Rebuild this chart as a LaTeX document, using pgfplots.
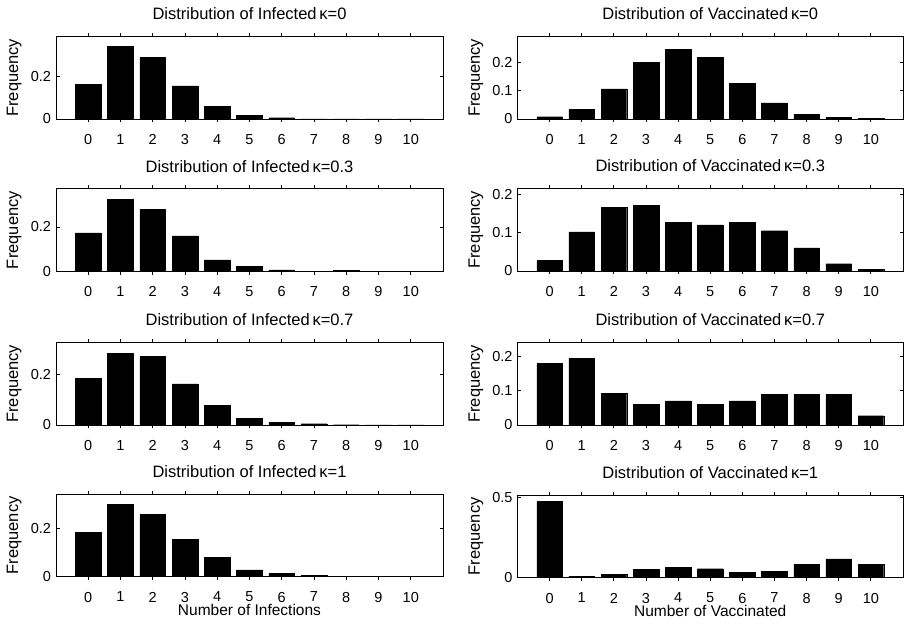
\documentclass[border=0pt]{standalone}
\usepackage{fontspec}
\setmainfont{Liberation Sans}
\usepackage{pgfplots}
\pgfplotsset{compat=1.18}
\pgfplotsset{
 panel/.style={
   scale only axis, width=387pt, height=82.5pt, anchor=south west,
   xmin=-1, xmax=11, ymin=0, xtick={0,...,10},
   tick align=inside, major tick length=3.5pt,
   axis line style={line width=0.9pt},
   every tick/.style={black, line width=0.8pt},
   ybar, bar width=0.8,
   /pgf/number format/assume math mode=true,
   ticklabel style={font=\fontsize{14.5}{14.5}\selectfont},
   xticklabel style={inner sep=0pt, anchor=north, yshift=-11.5pt},
   yticklabel style={xshift=-1.5pt},
   title style={at={(axis description cs:0.5,1)}, anchor=center, yshift=16.5pt, font=\fontsize{16.5}{16.5}\selectfont},
   ylabel={Frequency},
   ylabel style={at={(axis description cs:-0.108,0.5)}, anchor=center, font=\fontsize{16.5}{16.5}\selectfont},
   xlabel style={at={(axis description cs:0.5,0)}, anchor=north, inner sep=0pt, yshift=-27.5pt, font=\fontsize{15.5}{15.5}\selectfont},
 },
 barsty/.style={fill=black, draw=black, line width=0.4pt}
}
\begin{document}
\begin{tikzpicture}[x=1pt,y=1pt]
\useasboundingbox (0,0) rectangle (905,626);
% Row 1
\begin{axis}[panel, at={(56pt,507pt)}, ymax=0.39, ytick={0,0.2}, title={Distribution of Infected\,κ=0}]
\addplot[barsty] coordinates {(0,0.165)(1,0.343)(2,0.29)(3,0.156)(4,0.059)(5,0.016)(6,0.006)(7,0.001)(8,0.0005)(9,0)(10,0)};
\end{axis}
\begin{axis}[panel, width=385.5pt, at={(517.5pt,507pt)}, ymax=0.293, ytick={0,0.1,0.2}, title={Distribution of Vaccinated\,κ=0}]
\addplot[barsty] coordinates {(0,0.008)(1,0.034)(2,0.107)(3,0.2)(4,0.248)(5,0.218)(6,0.126)(7,0.057)(8,0.017)(9,0.006)(10,0.002)};
\end{axis}
% Row 2
\begin{axis}[panel, at={(56pt,354.7pt)}, ymax=0.372, ytick={0,0.2}, title={Distribution of Infected\,κ=0.3}]
\addplot[barsty] coordinates {(0,0.173)(1,0.325)(2,0.279)(3,0.16)(4,0.052)(5,0.022)(6,0.006)(7,0.001)(8,0.005)(9,0.0005)(10,0)};
\end{axis}
\begin{axis}[panel, width=385.5pt, at={(517.5pt,355pt)}, ymax=0.215, ytick={0,0.1,0.2}, title={Distribution of Vaccinated\,κ=0.3}]
\addplot[barsty] coordinates {(0,0.027)(1,0.102)(2,0.165)(3,0.171)(4,0.126)(5,0.12)(6,0.126)(7,0.105)(8,0.06)(9,0.019)(10,0.004)};
\end{axis}
% Row 3
\begin{axis}[panel, at={(56pt,201pt)}, ymax=0.326, ytick={0,0.2}, title={Distribution of Infected\,κ=0.7}]
\addplot[barsty] coordinates {(0,0.184)(1,0.283)(2,0.27)(3,0.162)(4,0.078)(5,0.025)(6,0.011)(7,0.005)(8,0.001)(9,0)(10,0)};
\end{axis}
\begin{axis}[panel, width=385.5pt, at={(517.5pt,201pt)}, ymax=0.24, ytick={0,0.1,0.2}, title={Distribution of Vaccinated\,κ=0.7}]
\addplot[barsty] coordinates {(0,0.179)(1,0.194)(2,0.093)(3,0.06)(4,0.07)(5,0.06)(6,0.07)(7,0.09)(8,0.09)(9,0.09)(10,0.027)};
\end{axis}
% Row 4
\begin{axis}[panel, at={(56pt,49.3pt)}, ymax=0.343, ytick={0,0.2}, title={Distribution of Infected\,κ=1}, xlabel={Number of Infections}]
\addplot[barsty] coordinates {(0,0.183)(1,0.301)(2,0.258)(3,0.154)(4,0.079)(5,0.028)(6,0.014)(7,0.007)(8,0.001)(9,0)(10,0)};
\end{axis}
\begin{axis}[panel, width=385.5pt, at={(517.5pt,48.3pt)}, ymax=0.515, ytick={0,0.5}, title={Distribution of Vaccinated\,κ=1}, xlabel={Number of Vaccinated}]
\addplot[barsty] coordinates {(0,0.477)(1,0.01)(2,0.023)(3,0.05)(4,0.064)(5,0.056)(6,0.035)(7,0.041)(8,0.083)(9,0.118)(10,0.083)};
\end{axis}
\end{tikzpicture}
\end{document}
